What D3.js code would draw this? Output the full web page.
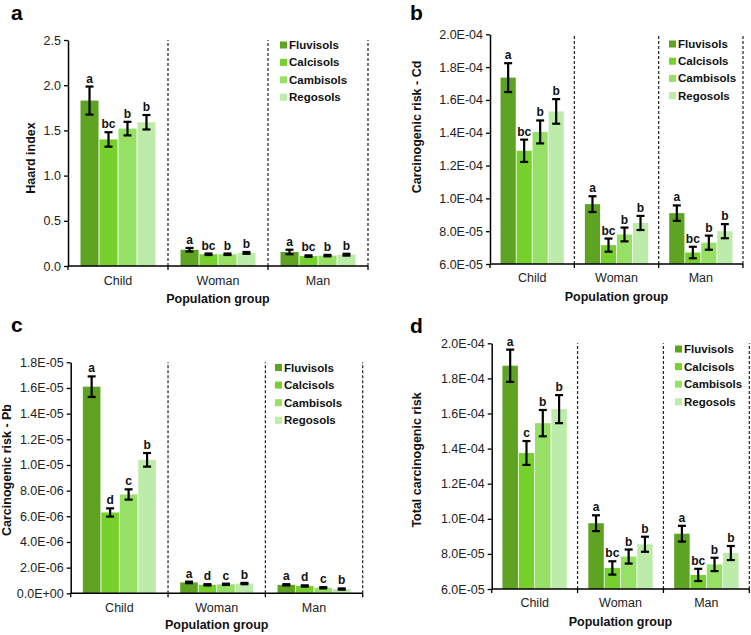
<!DOCTYPE html>
<html><head><meta charset="utf-8">
<script src="https://cdn.jsdelivr.net/npm/d3@7"></script>
<style>body{margin:0;background:#fff}svg{display:block}text{font-family:"Liberation Sans",Arial,sans-serif}</style>
</head><body>
<script>
const groups = ["Child","Woman","Man"];
const soils = ["Fluvisols","Calcisols","Cambisols","Regosols"];
const soilColors = ["#5fa322","#77d12d","#97e066","#bdeba9"];

// Panel a: Hazard index
const hiMean = [[1.83,1.40,1.52,1.59],[0.18,0.13,0.13,0.145],[0.155,0.11,0.115,0.125]];
const hiErr = [[0.155,0.08,0.075,0.08],[0.02,0.008,0.008,0.01],[0.025,0.008,0.008,0.01]];
const hiLetters = [["a","bc","b","b"],["a","bc","b","b"],["a","bc","b","b"]];
const hiTicks = [0,0.5,1.0,1.5,2.0,2.5];

// Panel b: Carcinogenic risk - Cd
const cdMean = [[1.736e-4,1.29e-4,1.405e-4,1.53e-4],[9.65e-5,7.15e-5,7.8e-5,8.5e-5],[9.1e-5,6.7e-5,7.3e-5,8.0e-5]];
const cdErr = [[8.8e-6,6.8e-6,7e-6,7.5e-6],[4.8e-6,4e-6,4.2e-6,4.3e-6],[4.7e-6,3.5e-6,4.3e-6,4.3e-6]];
const cdLetters = [["a","bc","b","b"],["a","bc","b","b"],["a","bc","b","b"]];
const cdTicks = [6e-5,8e-5,1e-4,1.2e-4,1.4e-4,1.6e-4,1.8e-4,2e-4];

// Panel c: Carcinogenic risk - Pb
const pbMean = [[1.61e-5,6.3e-6,7.7e-6,1.04e-5],[8.5e-7,6.6e-7,7.0e-7,7.6e-7],[6.6e-7,5.7e-7,4.3e-7,3.3e-7]];
const pbErr = [[8e-7,3.2e-7,4e-7,5.3e-7],[6e-8,5e-8,5e-8,5e-8],[5e-8,5e-8,5e-8,5e-8]];
const pbLetters = [["a","d","c","b"],["a","d","c","b"],["a","d","c","b"]];
const pbTicks = [0,2e-6,4e-6,6e-6,8e-6,1e-5,1.2e-5,1.4e-5,1.6e-5,1.8e-5];

// Panel d: Total carcinogenic risk
const totMean = [[1.872e-4,1.375e-4,1.545e-4,1.625e-4],[9.75e-5,7.2e-5,7.85e-5,8.55e-5],[9.15e-5,6.8e-5,7.4e-5,8.05e-5]];
const totErr = [[9.2e-6,6.8e-6,7.5e-6,8e-6],[4.5e-6,3.8e-6,4e-6,4.3e-6],[4.5e-6,3.5e-6,3.8e-6,4e-6]];
const totLetters = [["a","c","b","b"],["a","bc","b","b"],["a","bc","b","b"]];
const totTicks = [6e-5,8e-5,1e-4,1.2e-4,1.4e-4,1.6e-4,1.8e-4,2e-4];

const fmtE = v => {
  const s = v.toExponential(1);
  const [m, e] = s.split("e");
  const sign = e[0] === "-" ? "-" : "+";
  const d = Math.abs(+e);
  return m + "E" + sign + (d < 10 ? "0" + d : d);
};
const fmt1 = d3.format(".1f");

const svg = d3.select("body").append("svg").attr("width",751).attr("height",635);
svg.append("rect").attr("width",751).attr("height",635).attr("fill","#fff");

function panel(c) {
  const g = svg.append("g");
  const x = d3.scaleBand().domain(groups).range([c.x0, c.x1]).padding(0);
  const xi = d3.scaleBand().domain(soils).range([x.bandwidth()*0.125, x.bandwidth()*0.875]).paddingInner(0.05);
  const y = d3.scaleLinear().domain([c.ticks[0], c.ticks[c.ticks.length-1]]).range([c.yBot, c.yTop]);

  // dashed separators
  groups.forEach(gr => {
    const xb = x(gr) + x.bandwidth();
    g.append("line").attr("x1",xb).attr("x2",xb).attr("y1",c.yBot).attr("y2",c.yTop)
      .attr("stroke","#222").attr("stroke-width",1.2).attr("stroke-dasharray","3,2");
  });

  // bars
  groups.forEach((gr, gi) => {
    soils.forEach((s, si) => {
      const v = c.means[gi][si], e = c.errs[gi][si];
      const bx = x(gr) + xi(s);
      g.append("rect").attr("x",bx).attr("width",xi.bandwidth())
        .attr("y",y(v)).attr("height",y(c.ticks[0]) - y(v)).attr("fill",soilColors[si]);
      const cx = bx + xi.bandwidth()/2;
      g.append("line").attr("x1",cx).attr("x2",cx).attr("y1",y(v-e)).attr("y2",y(v+e))
        .attr("stroke","#000").attr("stroke-width",2.2);
      [v-e, v+e].forEach(t => g.append("line").attr("x1",cx-4).attr("x2",cx+4)
        .attr("y1",y(t)).attr("y2",y(t)).attr("stroke","#000").attr("stroke-width",2.2));
      g.append("text").attr("x",cx).attr("y",y(v+e)-4).attr("text-anchor","middle")
        .attr("font-size",12).attr("font-weight","bold").attr("fill","#111").text(c.letters[gi][si]);
    });
  });

  // y axis
  const ya = g.append("g").attr("transform",`translate(${c.x0},0)`)
    .call(d3.axisLeft(y).tickValues(c.ticks).tickFormat(c.fmt).tickSize(4).tickSizeOuter(0));
  ya.select(".domain").attr("stroke","#000").attr("stroke-width",1.5);
  ya.selectAll(".tick line").attr("stroke","#000").attr("stroke-width",1.3);
  ya.selectAll(".tick text").attr("font-size",12.5).attr("fill","#222")
    .attr("font-family",'"Liberation Sans",Arial,sans-serif').attr("x",-7);

  // x axis
  g.append("line").attr("x1",c.x0).attr("x2",c.x1).attr("y1",c.yBot).attr("y2",c.yBot)
    .attr("stroke","#000").attr("stroke-width",1.6);
  [c.x0].concat(groups.map(gr => x(gr)+x.bandwidth())).forEach(xb =>
    g.append("line").attr("x1",xb).attr("x2",xb).attr("y1",c.yBot).attr("y2",c.yBot+4)
      .attr("stroke","#000").attr("stroke-width",1.3));
  groups.forEach(gr => g.append("text").attr("x",x(gr)+x.bandwidth()/2).attr("y",c.tickLabelY)
    .attr("text-anchor","middle").attr("font-size",12.5).attr("fill","#222").text(gr));
  g.append("text").attr("x",(c.x0+c.x1)/2).attr("y",c.titleY).attr("text-anchor","middle")
    .attr("font-size",12.5).attr("font-weight","bold").attr("fill","#111").text("Population group");

  // y title
  g.append("text").attr("transform",`translate(${c.ytX},${c.ytY}) rotate(-90)`)
    .attr("text-anchor","middle").attr("font-size",12.5).attr("font-weight","bold").attr("fill","#111").text(c.ytitle);

  // panel label
  g.append("text").attr("x",c.lx).attr("y",c.ly).attr("font-size",21).attr("font-weight","bold")
    .attr("fill","#000").text(c.label);

  // legend
  soils.forEach((s, si) => {
    const yy = c.legY + si*c.legStep;
    g.append("rect").attr("x",c.legX).attr("y",yy-3.5).attr("width",7).attr("height",7).attr("fill",soilColors[si]);
    g.append("text").attr("x",c.legX+9).attr("y",yy+4).attr("font-size",11.5).attr("font-weight","bold")
      .attr("fill","#111").text(s);
  });
}

panel({x0:68,x1:368,yTop:40,yBot:266,ticks:hiTicks,fmt:fmt1,means:hiMean,errs:hiErr,letters:hiLetters,
  tickLabelY:285,titleY:303,ytitle:"Haard index",ytX:35,ytY:158,label:"a",lx:11,ly:20,legX:280,legY:45,legStep:17.4});
panel({x0:490,x1:743,yTop:34.3,yBot:264,ticks:cdTicks,fmt:fmtE,means:cdMean,errs:cdErr,letters:cdLetters,
  tickLabelY:282,titleY:301,ytitle:"Carcinogenic risk - Cd",ytX:421,ytY:127,label:"b",lx:410,ly:20,legX:669,legY:44,legStep:17.2});
panel({x0:70.7,x1:362.7,yTop:362.3,yBot:593.3,ticks:pbTicks,fmt:fmtE,means:pbMean,errs:pbErr,letters:pbLetters,
  tickLabelY:612,titleY:629,ytitle:"Carcinogenic risk - Pb",ytX:11,ytY:470,label:"c",lx:11,ly:332,legX:275,legY:367.5,legStep:17.6});
panel({x0:491.7,x1:749.3,yTop:343.3,yBot:589,ticks:totTicks,fmt:fmtE,means:totMean,errs:totErr,letters:totLetters,
  tickLabelY:607,titleY:626,ytitle:"Total carcinogenic risk",ytX:421,ytY:460,label:"d",lx:410,ly:333,legX:675,legY:349,legStep:17.6});
</script>
</body></html>
